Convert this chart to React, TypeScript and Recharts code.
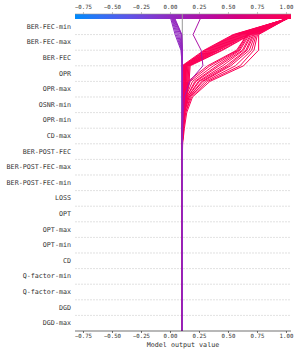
import React from 'react';
import { LineChart, Line, XAxis, YAxis, ReferenceLine, ReferenceArea } from 'recharts';

// Features, top (most important) to bottom
const FEATURES = [
  'BER-FEC-min', 'BER-FEC-max', 'BER-FEC', 'OPR', 'OPR-max', 'OSNR-min', 'OPR-min', 'CD-max',
  'BER-POST-FEC', 'BER-POST-FEC-max', 'BER-POST-FEC-min', 'LOSS', 'OPT', 'OPT-max', 'OPT-min',
  'CD', 'Q-factor-min', 'Q-factor-max', 'DGD', 'DGD-max',
];
const X_TICKS = [-0.75, -0.5, -0.25, 0, 0.25, 0.5, 0.75, 1.0];
const X_DOMAIN: [number, number] = [-0.823, 1.039];
const BASE_VALUE = 0.102;

// Cumulative model output at row boundaries k = 20 (top), 19, ..., 12.
// Below k = 12 every line sits at the base value.
const RED_BAND = [
  [1.00, 0.69, 0.45, 0.17, 0.16, 0.14, 0.12, 0.11, 0.102],
  [1.00, 0.68, 0.44, 0.16, 0.16, 0.13, 0.12, 0.11, 0.102],
  [0.99, 0.67, 0.42, 0.16, 0.15, 0.13, 0.11, 0.105, 0.102],
  [1.00, 0.66, 0.41, 0.15, 0.15, 0.14, 0.12, 0.11, 0.102],
  [1.01, 0.65, 0.40, 0.15, 0.14, 0.12, 0.11, 0.105, 0.102],
  [1.00, 0.64, 0.39, 0.14, 0.14, 0.13, 0.115, 0.105, 0.102],
  [0.99, 0.63, 0.38, 0.14, 0.13, 0.12, 0.11, 0.105, 0.102],
  [1.00, 0.62, 0.37, 0.13, 0.13, 0.12, 0.11, 0.105, 0.102],
  [1.00, 0.61, 0.36, 0.13, 0.13, 0.11, 0.105, 0.102, 0.102],
  [1.00, 0.60, 0.35, 0.12, 0.12, 0.11, 0.105, 0.102, 0.102],
  [0.99, 0.59, 0.34, 0.12, 0.12, 0.115, 0.11, 0.105, 0.102],
  [1.00, 0.58, 0.33, 0.12, 0.13, 0.12, 0.11, 0.105, 0.102],
  [1.00, 0.57, 0.32, 0.11, 0.12, 0.11, 0.105, 0.102, 0.102],
  [1.00, 0.56, 0.31, 0.11, 0.11, 0.11, 0.105, 0.102, 0.102],
  [1.00, 0.55, 0.30, 0.11, 0.11, 0.105, 0.102, 0.102, 0.102],
  [1.00, 0.54, 0.29, 0.10, 0.11, 0.105, 0.102, 0.102, 0.102],
];
const RED_FAN = [
  [1.00, 0.76, 0.76, 0.63, 0.34, 0.19, 0.14, 0.12, 0.105],
  [1.00, 0.75, 0.72, 0.60, 0.32, 0.18, 0.13, 0.115, 0.102],
  [1.00, 0.74, 0.70, 0.56, 0.30, 0.17, 0.13, 0.11, 0.102],
  [1.00, 0.73, 0.68, 0.52, 0.28, 0.16, 0.12, 0.11, 0.102],
  [0.99, 0.72, 0.66, 0.50, 0.27, 0.16, 0.12, 0.11, 0.102],
  [1.00, 0.71, 0.65, 0.48, 0.25, 0.15, 0.12, 0.105, 0.102],
  [1.00, 0.70, 0.63, 0.45, 0.24, 0.15, 0.115, 0.105, 0.102],
  [1.00, 0.69, 0.62, 0.42, 0.22, 0.14, 0.11, 0.105, 0.102],
  [1.00, 0.68, 0.60, 0.40, 0.21, 0.14, 0.11, 0.105, 0.102],
  [1.00, 0.67, 0.59, 0.37, 0.19, 0.13, 0.11, 0.102, 0.102],
  [0.99, 0.66, 0.58, 0.34, 0.17, 0.13, 0.105, 0.102, 0.102],
  [1.00, 0.66, 0.57, 0.32, 0.15, 0.12, 0.105, 0.102, 0.102],
];
const MAGENTA = [
  [0.256, 0.195, 0.264, 0.28, 0.165, 0.12, 0.11, 0.105, 0.102],
];
const PURPLE = [
  [0.003, 0.04, 0.09, 0.102, 0.102, 0.102, 0.102, 0.102, 0.102],
  [0.01, 0.05, 0.095, 0.102, 0.102, 0.102, 0.102, 0.102, 0.102],
  [0.015, 0.06, 0.098, 0.102, 0.102, 0.102, 0.102, 0.102, 0.102],
  [0.02, 0.07, 0.10, 0.102, 0.102, 0.102, 0.102, 0.102, 0.102],
  [0.025, 0.08, 0.10, 0.102, 0.102, 0.102, 0.102, 0.102, 0.102],
  [0.03, 0.09, 0.10, 0.102, 0.102, 0.102, 0.102, 0.102, 0.102],
  [0.035, 0.095, 0.102, 0.102, 0.102, 0.102, 0.102, 0.102, 0.102],
  [0.04, 0.098, 0.102, 0.102, 0.102, 0.102, 0.102, 0.102, 0.102],
];

// shap red_blue colormap approximation
const CMAP = ['#008bfb', '#3370f5', '#5d55e8', '#8237cf', '#9b1fb5', '#b80aa0', '#d4007f', '#eb0069', '#ff0052'];

const hexToRgb = (h: string) => [1, 3, 5].map((i) => parseInt(h.slice(i, i + 2), 16));
const colorAt = (v: number) => {
  let t = (v - X_DOMAIN[0]) / (X_DOMAIN[1] - X_DOMAIN[0]);
  t = Math.max(0, Math.min(1, t));
  const p = t * (CMAP.length - 1);
  const i = Math.min(CMAP.length - 2, Math.floor(p));
  const f = p - i;
  const a = hexToRgb(CMAP[i]);
  const b = hexToRgb(CMAP[i + 1]);
  const c = a.map((x, j) => Math.round(x + (b[j] - x) * f));
  return `rgb(${c[0]},${c[1]},${c[2]})`;
};

const N = FEATURES.length;
const toPoints = (arr: number[]) => {
  const pts = arr.map((v, i) => ({ x: v, y: N - i }));
  for (let k = N - arr.length; k >= 0; k--) pts.push({ x: BASE_VALUE, y: k });
  return pts;
};

const ALL_LINES = [...RED_BAND, ...RED_FAN, ...MAGENTA, ...PURPLE];

const Y_TICKS = FEATURES.map((_, i) => N - 0.5 - i);
const GRID_Y = Array.from({ length: N - 1 }, (_, i) => i + 1);
const fmtX = (v: number) => (v < 0 ? '\u2212' : '') + Math.abs(v).toFixed(2);
const fmtY = (v: number) => FEATURES[Math.round(N - 0.5 - v)] ?? '';

const FONT = 'DejaVu Sans Mono';
const TEXT = '#333333';
const Y_TOP = 20.32;

const YTick = (p: any) => (
  <text x={p.x} y={p.y} textAnchor="end" dominantBaseline="central" fontSize={6.7} fill={TEXT} fontFamily={FONT}>
    {fmtY(p.payload.value)}
  </text>
);
const BottomTick = (p: any) => (
  <text x={p.x} y={p.y} dy="0.71em" textAnchor="middle" fontSize={5.7} fill={TEXT} fontFamily={FONT}>
    {fmtX(p.payload.value)}
  </text>
);
const TopTick = (p: any) => (
  <text x={p.x} y={p.y} textAnchor="middle" fontSize={5.7} fill={TEXT} fontFamily={FONT}>
    {fmtX(p.payload.value)}
  </text>
);

export default function App() {
  return (
    <div style={{ position: 'absolute', left: 0, top: 0, width: 299, height: 355, background: '#fff' }}>
      <LineChart width={299} height={355} margin={{ top: 0, right: 8, bottom: 0, left: 0 }}>
        <defs>
          <linearGradient id="cbar" x1="0" y1="0" x2="1" y2="0">
            {CMAP.map((c, i) => (
              <stop key={i} offset={i / (CMAP.length - 1)} stopColor={c} />
            ))}
          </linearGradient>
        </defs>
        <XAxis
          xAxisId="t"
          orientation="top"
          type="number"
          dataKey="x"
          domain={X_DOMAIN}
          ticks={X_TICKS}
          allowDataOverflow
          interval={0}
          height={14}
          tickSize={2}
          tickMargin={3}
          tick={<TopTick />}
          axisLine={{ stroke: '#999', strokeWidth: 0.6 }}
          tickLine={{ stroke: '#999', strokeWidth: 0.6 }}
        />
        <XAxis
          xAxisId="b"
          orientation="bottom"
          type="number"
          dataKey="x"
          domain={X_DOMAIN}
          ticks={X_TICKS}
          allowDataOverflow
          interval={0}
          height={24}
          tickSize={2}
          tickMargin={1}
          tick={<BottomTick />}
          axisLine={{ stroke: '#333', strokeWidth: 0.7 }}
          tickLine={{ stroke: '#333', strokeWidth: 0.7 }}
          label={{ value: 'Model output value', position: 'insideBottom', offset: 8, fontSize: 6.7, fill: TEXT, fontFamily: FONT }}
        />
        <YAxis
          type="number"
          domain={[0, Y_TOP]}
          ticks={Y_TICKS}
          allowDataOverflow
          interval={0}
          width={75}
          tickSize={0}
          tickMargin={4}
          axisLine={false}
          tickLine={false}
          tick={<YTick />}
        />
        {GRID_Y.map((k) => (
          <ReferenceLine key={'g' + k} xAxisId="b" y={k} stroke="#cccccc" strokeWidth={0.6} strokeDasharray="2 1" />
        ))}
        <ReferenceLine xAxisId="b" x={BASE_VALUE} stroke="#999999" strokeWidth={1} />
        {ALL_LINES.map((arr, i) => (
          <Line
            key={'l' + i}
            xAxisId="b"
            data={toPoints(arr)}
            dataKey="y"
            type="linear"
            stroke={colorAt(arr[0])}
            strokeWidth={1}
            dot={false}
            activeDot={false}
            isAnimationActive={false}
          />
        ))}
        <ReferenceArea
          xAxisId="b"
          x1={X_DOMAIN[0]}
          x2={X_DOMAIN[1]}
          y1={20}
          y2={Y_TOP}
          fill="url(#cbar)"
          fillOpacity={1}
          stroke="none"
          ifOverflow="visible"
        />
      </LineChart>
    </div>
  );
}
